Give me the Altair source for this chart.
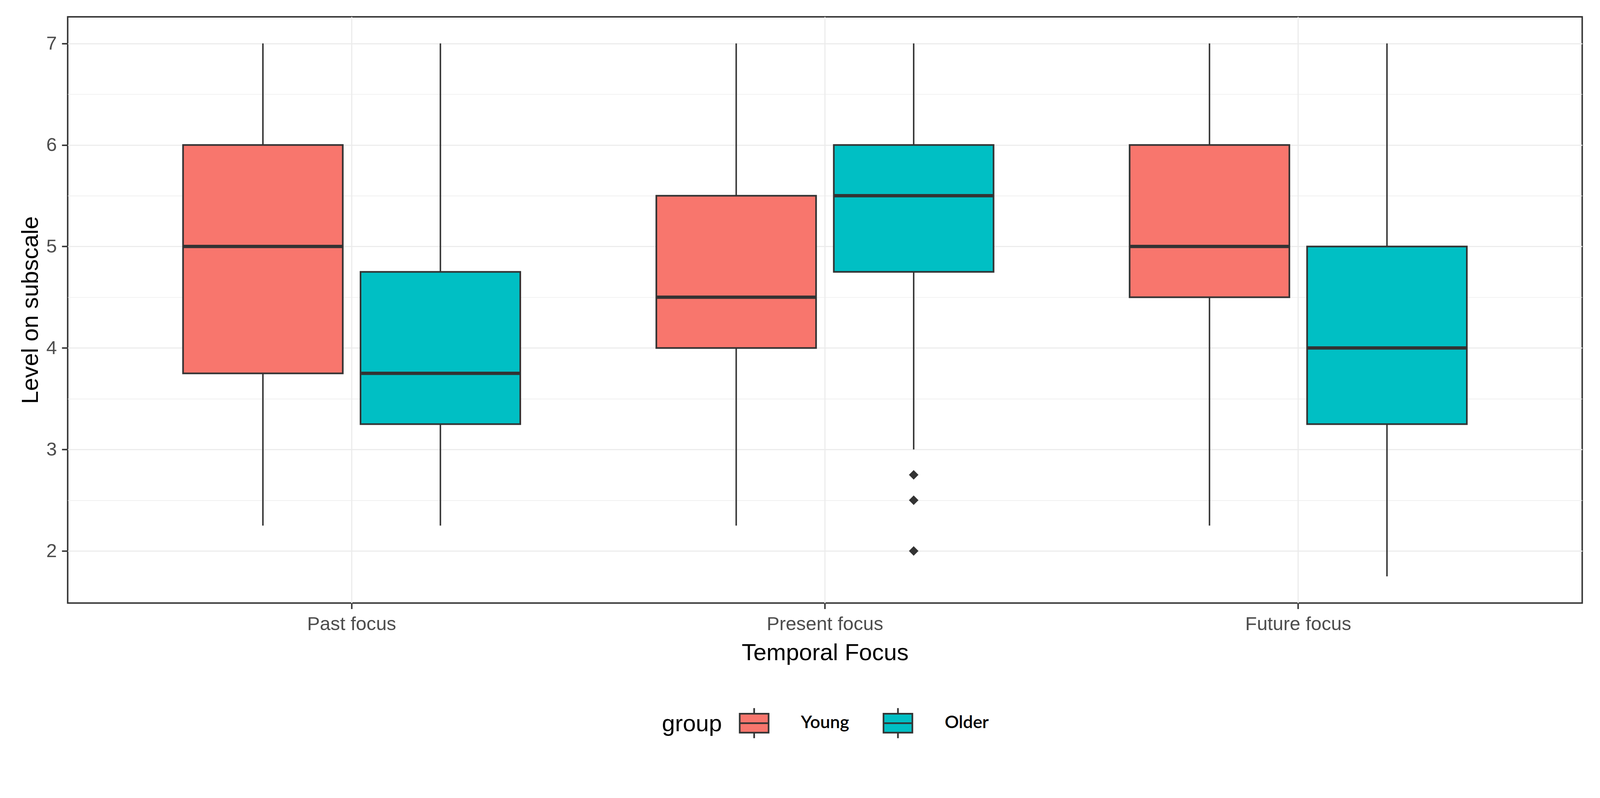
import altair as alt
import pandas as pd

# ---- data ----
focus = ["Past focus", "Present focus", "Future focus"]
groups = ["Young", "Older"]

box_focus = ["Past focus", "Past focus", "Present focus", "Present focus", "Future focus", "Future focus"]
box_group = ["Young", "Older", "Young", "Older", "Young", "Older"]
lower = [2.25, 2.25, 2.25, 3.0, 2.25, 1.75]
q1 = [3.75, 3.25, 4.0, 4.75, 4.5, 3.25]
median = [5.0, 3.75, 4.5, 5.5, 5.0, 4.0]
q3 = [6.0, 4.75, 5.5, 6.0, 6.0, 5.0]
upper = [7.0, 7.0, 7.0, 7.0, 7.0, 7.0]

out_focus = ["Present focus", "Present focus", "Present focus"]
out_group = ["Older", "Older", "Older"]
out_value = [2.75, 2.5, 2.0]

y_ticks = [2, 2.5, 3, 3.5, 4, 4.5, 5, 5.5, 6, 6.5, 7]
y_domain = [1.4875, 7.2625]
colors = ["#F8766D", "#00BFC4"]

boxes = pd.DataFrame({"focus": box_focus, "group": box_group, "lower": lower,
                      "q1": q1, "median": median, "q3": q3, "upper": upper})
outs = pd.DataFrame({"focus": out_focus, "group": out_group, "value": out_value})

# ---- styling ----
FONT = "Liberation Sans"
DARK = "#333333"
W, H = 4129, 1599

xaxis = alt.Axis(labelAngle=0, labelFont=FONT, labelFontSize=52, labelColor="#4D4D4D",
                 labelPadding=16, labelLimit=2000, tickSize=16, tickWidth=4, tickColor=DARK,
                 grid=True, gridColor="#EBEBEB", gridWidth=3, domain=False,
                 titleFont=FONT, titleFontSize=64, titleColor="black",
                 titleFontWeight="normal", titlePadding=22)
minor_test = "datum.value % 1 !== 0"
yaxis = alt.Axis(values=y_ticks, labelExpr="datum.value % 1 === 0 ? datum.value : ''",
                 labelFont=FONT, labelFontSize=52, labelColor="#4D4D4D", labelPadding=14,
                 tickSize=16, tickWidth=4, tickColor=DARK,
                 tickOpacity={"condition": {"test": minor_test, "value": 0}, "value": 1},
                 grid=True, gridColor="#EBEBEB",
                 gridWidth={"condition": {"test": minor_test, "value": 1.5}, "value": 3},
                 domain=False, titleFont=FONT, titleFontSize=64, titleColor="black",
                 titleFontWeight="normal", titlePadding=10)

xscale = alt.Scale(domain=focus, paddingInner=0.25, paddingOuter=0.225)
oscale = alt.Scale(domain=groups, paddingInner=0.1, paddingOuter=0.05)
yscale = alt.Scale(domain=y_domain, nice=False, zero=False)


def X():
    return alt.X("focus:N", scale=xscale, axis=xaxis, title="Temporal Focus", sort=focus)


def XO():
    return alt.XOffset("group:N", scale=oscale, sort=groups)


def Y(field):
    return alt.Y(f"{field}:Q", scale=yscale, axis=yaxis, title="Level on subscale")


legend_symbol = "M-0.96,-0.63H0.96V0.63H-0.96Z M-0.96,0H0.96 M0,-0.63V-1 M0,0.63V1"

whiskers = alt.Chart(boxes).mark_rule(color=DARK, strokeWidth=4).encode(
    x=X(), xOffset=XO(), y=Y("lower"), y2="upper:Q")

box = alt.Chart(boxes).mark_bar(stroke=DARK, strokeWidth=4.5, opacity=1).encode(
    x=X(), xOffset=XO(), y=Y("q1"), y2="q3:Q",
    color=alt.Color("group:N", sort=groups,
                    scale=alt.Scale(domain=groups, range=colors),
                    legend=alt.Legend(title="group", orient="none", direction="horizontal",
                                      legendX=1620, legendY=1883,
                                      titleOrient="left", titleFont=FONT, titleFontSize=64,
                                      titleFontWeight="normal", titleColor="black",
                                      titleBaseline="middle", titlePadding=44,
                                      symbolType=legend_symbol, symbolSize=6724,
                                      symbolStrokeColor=DARK, symbolStrokeWidth=4.5,
                                      symbolOpacity=1,
                                      labelFont="Lato", labelFontSize=48, labelColor="black",
                                      labelFontWeight=600,
                                      labelOffset=84, columnPadding=84)))

med = alt.Chart(boxes).mark_tick(orient="horizontal", color=DARK, thickness=9,
                                 size=436, opacity=1).encode(
    x=X(), xOffset=XO(), y=Y("median"))

pts = alt.Chart(outs).mark_point(shape="diamond", filled=True, size=676,
                                 color=DARK, opacity=1).encode(
    x=X(), xOffset=XO(), y=Y("value"))

chart = alt.layer(whiskers, box, med, pts).properties(
    width=W, height=H, autosize="none",
    padding={"left": 176, "top": -28, "right": 40, "bottom": 440},
    background="white",
).configure_view(stroke=DARK, strokeWidth=4)

chart.save("out.html", embed_options={"renderer": "svg", "actions": False})
